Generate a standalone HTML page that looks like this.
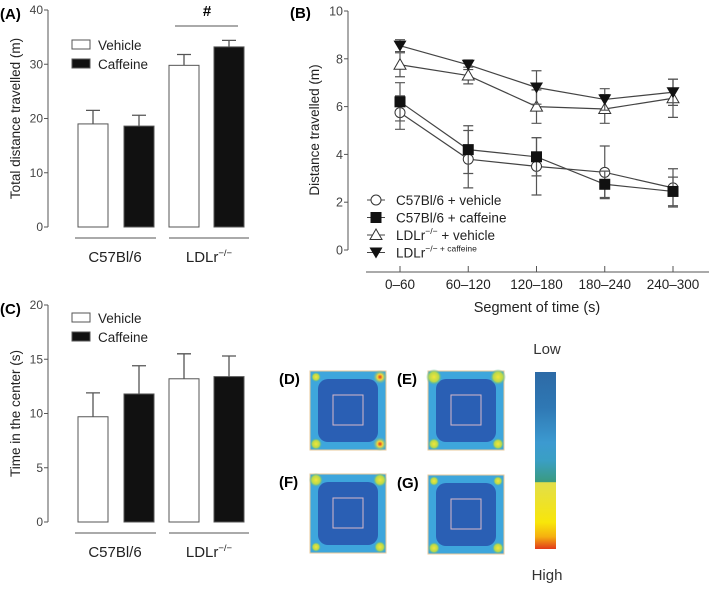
<!DOCTYPE html>
<html><head><meta charset="utf-8"><style>
body{margin:0;background:#fff;}
svg text{font-family:"Liberation Sans",Arial,sans-serif;}
</style></head><body>
<svg id="fig" width="709" height="586" viewBox="0 0 709 586" xmlns="http://www.w3.org/2000/svg">
<defs>
<radialGradient id="hotY"><stop offset="0" stop-color="#f2e63a"/><stop offset="0.6" stop-color="#b9d84a"/><stop offset="1" stop-color="#3fb3a0" stop-opacity="0"/></radialGradient>
<radialGradient id="hotR"><stop offset="0" stop-color="#e0301e"/><stop offset="0.4" stop-color="#f4d83a"/><stop offset="1" stop-color="#5fbf8a" stop-opacity="0"/></radialGradient>
<linearGradient id="cbar" x1="0" y1="0" x2="0" y2="1">
<stop offset="0" stop-color="#2d6aa6"/><stop offset="0.2" stop-color="#2f78b4"/><stop offset="0.4" stop-color="#3c9ad0"/><stop offset="0.5" stop-color="#3a9fc4"/><stop offset="0.62" stop-color="#3a9a80"/><stop offset="0.625" stop-color="#e2de4a"/><stop offset="0.85" stop-color="#f8e60a"/><stop offset="0.93" stop-color="#f5b010"/><stop offset="1" stop-color="#e23a1a"/></linearGradient>
</defs>
<g id="pA"></g>
<g id="pB"></g>
<g id="pC"></g>
<g id="pH"></g>
</svg>
<script>
const NS="http://www.w3.org/2000/svg";
// Panel A data
const aValues=[19,18.6,29.8,33.2];
const aErrors=[2.5,2.0,2.0,1.2];
const aTicks=[0,10,20,30,40];
// Panel C data
const cValues=[9.7,11.8,13.2,13.4];
const cErrors=[2.2,2.6,2.3,1.9];
const cTicks=[0,5,10,15,20];
const barFills=["#fff","#111","#fff","#111"];
const groups=["C57Bl/6","LDLr"];
// Panel B data
const bCategories=["0–60","60–120","120–180","180–240","240–300"];
const bTicks=[0,2,4,6,8,10];
const c57Veh=[5.75,3.8,3.5,3.25,2.6];
const c57VehErr=[0.7,1.2,1.2,1.1,0.8];
const c57Caf=[6.2,4.2,3.9,2.75,2.45];
const c57CafErr=[0.8,1.0,0.8,0.55,0.6];
const ldlVeh=[7.75,7.3,6.0,5.9,6.35];
const ldlVehErr=[0.5,0.35,0.7,0.6,0.8];
const ldlCaf=[8.55,7.75,6.8,6.3,6.6];
const ldlCafErr=[0.25,0.2,0.7,0.45,0.55];

function el(parent,tag,attrs,txt){const e=document.createElementNS(NS,tag);for(const k in attrs)e.setAttribute(k,attrs[k]);if(txt!==undefined)e.textContent=txt;parent.appendChild(e);return e;}
const grey="#555";

function barPanel(g,label,values,errors,ticks,y0,yTop,ytitle,legendY,hash){
  const max=ticks[ticks.length-1];
  const ys=v=>y0-(v/max)*(y0-yTop);
  const ax=48;
  let t=el(g,"text",{x:0,y:yTop+9,"font-size":15,"font-weight":"bold"},label);
  
  
  let l=el(g,"line",{x1:ax,y1:yTop,x2:ax,y2:y0,stroke:grey,"stroke-width":1});
  
  
  ticks.forEach(v=>{
    el(g,"line",{x1:ax-4,y1:ys(v),x2:ax,y2:ys(v),stroke:grey});
    const tt=el(g,"text",{x:ax-5,y:ys(v)+4,"font-size":12,fill:"#444","text-anchor":"end"},v);
    
    
  });
  const yt=el(g,"text",{x:0,y:0,"font-size":13.5,fill:"#222","text-anchor":"middle",transform:`translate(20,${(y0+yTop)/2}) rotate(-90)`},ytitle);
  
  
  const xs=[78,124,169,214];
  values.forEach((v,i)=>{
    const top=ys(v),etop=ys(v+errors[i]),cx=xs[i]+15;
    const er=el(g,"path",{d:`M${cx},${top}V${etop}M${cx-7},${etop}H${cx+7}`,stroke:grey,"stroke-width":1.3,fill:"none"});
    
    
    const b=el(g,"rect",{x:xs[i],y:top,width:30,height:y0-top,fill:barFills[i],stroke:"#555","stroke-width":1});
    
    
  });
  [[75,156,115],[169,249,209]].forEach((p,i)=>{
    el(g,"line",{x1:p[0],y1:y0+11,x2:p[1],y2:y0+11,stroke:grey});
    const gl=el(g,"text",{x:p[2],y:y0+35,"font-size":15,fill:"#222","text-anchor":"middle"});
    
    
    gl.textContent=groups[i];
    if(i===1){el(gl,"tspan",{"font-size":9.5,dy:-6},"−/−");}
  });
  [["Vehicle","#fff"],["Caffeine","#111"]].forEach((e,i)=>{
    const lg=el(g,"g",{});
    
    
    el(lg,"rect",{x:72,y:legendY+i*19-5,width:18,height:9,fill:e[1],stroke:"#555"});
    el(lg,"text",{x:98,y:legendY+i*19+5,"font-size":13.5,fill:"#222"},e[0]);
  });
  if(hash){
    el(g,"line",{x1:175,y1:26,x2:238,y2:26,stroke:grey});
    const h=el(g,"text",{x:207,y:16,"font-size":15,"font-weight":"bold","text-anchor":"middle"},"#");
    
    
  }
}
barPanel(document.getElementById("pA"),"(A)",aValues,aErrors,aTicks,227,10,"Total distance travelled (m)",45,true);
barPanel(document.getElementById("pC"),"(C)",cValues,cErrors,cTicks,522,305,"Time in the center (s)",318,false);

// Panel B
(function(){
  const g=document.getElementById("pB");
  const y0=250,yTop=11,ax=348,max=10;
  const ys=v=>y0-(v/max)*(y0-yTop);
  const xs=i=>400+i*68.25;
  let t=el(g,"text",{x:290,y:18,"font-size":15,"font-weight":"bold"},"(B)");
  
  
  el(g,"line",{x1:ax,y1:yTop,x2:ax,y2:y0,stroke:grey});
  bTicks.forEach(v=>{
    el(g,"line",{x1:ax-4,y1:ys(v),x2:ax,y2:ys(v),stroke:grey});
    const tt=el(g,"text",{x:ax-5,y:ys(v)+4.5,"font-size":12.5,fill:"#444","text-anchor":"end"},v);
    
    
  });
  const yt=el(g,"text",{x:0,y:0,"font-size":13.5,fill:"#222","text-anchor":"middle",transform:`translate(319,130) rotate(-90)`},"Distance travelled (m)");
  
  
  el(g,"line",{x1:366,y1:272,x2:709,y2:272,stroke:grey});
  bCategories.forEach((c,i)=>{
    el(g,"line",{x1:xs(i),y1:266,x2:xs(i),y2:272,stroke:grey});
    const tl=el(g,"text",{x:xs(i),y:289,"font-size":13.5,fill:"#222","text-anchor":"middle"},c);
    
    
  });
  const xt=el(g,"text",{x:537,y:312,"font-size":14.5,fill:"#222","text-anchor":"middle"},"Segment of time (s)");
  
  
  function marker(p,type,x,y){
    if(type==="circle")el(p,"circle",{cx:x,cy:y,r:5,fill:"#fff",stroke:"#333"});
    else if(type==="square")el(p,"rect",{x:x-5.5,y:y-5.5,width:11,height:11,fill:"#111"});
    else if(type==="tri")el(p,"path",{d:`M${x},${y-6}L${x+6},${y+4.5}L${x-6},${y+4.5}Z`,fill:"#fff",stroke:"#333"});
    else el(p,"path",{d:`M${x},${y+6}L${x+6.5},${y-5}L${x-6.5},${y-5}Z`,fill:"#111"});
  }
  const series=[[c57Veh,c57VehErr,"circle","c57-vehicle"],[c57Caf,c57CafErr,"square","c57-caffeine"],[ldlVeh,ldlVehErr,"tri","ldlr-vehicle"],[ldlCaf,ldlCafErr,"itri","ldlr-caffeine"]];
  series.forEach(s=>{
    const sg=el(g,"g",{});
    
    
    s[0].forEach((v,i)=>{
      const x=xs(i),a=ys(v+s[1][i]),b=ys(v-s[1][i]);
      el(sg,"path",{d:`M${x},${a}V${b}M${x-5},${a}H${x+5}M${x-5},${b}H${x+5}`,stroke:"#555","stroke-width":1.2,fill:"none"});
    });
    el(sg,"polyline",{points:s[0].map((v,i)=>xs(i)+","+ys(v)).join(" "),fill:"none",stroke:"#444","stroke-width":1.2});
    s[0].forEach((v,i)=>{
      const pt=el(sg,"g",{});
      
      
      marker(pt,s[2],xs(i),ys(v));
    });
  });
  const labels=["C57Bl/6 + vehicle","C57Bl/6 + caffeine","LDLr","LDLr"];
  series.forEach((s,i)=>{
    const y=200+i*17.5;
    const lg=el(g,"g",{});
    
    
    el(lg,"line",{x1:367,y1:y,x2:385,y2:y,stroke:"#444"});
    marker(lg,s[2],376,y);
    const tx=el(lg,"text",{x:396,y:y+5,"font-size":13.5,fill:"#222"},labels[i]);
    if(i===2){el(tx,"tspan",{"font-size":8.5,dy:-6},"−/−");el(tx,"tspan",{dy:6}," + vehicle");}
    if(i===3){el(tx,"tspan",{"font-size":8.5,dy:-6},"−/− + caffeine");}
  });
})();

// Heatmaps
(function(){
  const g=document.getElementById("pH");
  const maps=[["(D)",310,371,[[0,0,"Y",5],[1,0,"R",7],[0,1,"Y",6],[1,1,"R",7]]],["(E)",428,371,[[0,0,"Y",8],[1,0,"Y",8],[0,1,"Y",6],[1,1,"Y",6]]],["(F)",310,474,[[0,0,"Y",7],[1,0,"Y",7],[0,1,"Y",5],[1,1,"Y",6]]],["(G)",428,475,[[0,0,"Y",5],[1,0,"Y",5],[0,1,"Y",6],[1,1,"Y",6]]]];
  maps.forEach(m=>{
    const mg=el(g,"g",{});
    
    
    el(mg,"text",{x:m[1]-31,y:m[2]+13,"font-size":15,"font-weight":"bold"},m[0]);
    el(mg,"rect",{x:m[1],y:m[2],width:76,height:79,fill:"#3ea6dc",stroke:"#e8c89a","stroke-width":1});
    el(mg,"rect",{x:m[1]+8,y:m[2]+8,width:60,height:63,rx:10,fill:"#2a5fb4"});
    m[3].forEach(h=>{
      el(mg,"circle",{cx:m[1]+(h[0]?70:6),cy:m[2]+(h[1]?73:6),r:h[3],fill:h[2]==="R"?"url(#hotR)":"url(#hotY)"});
    });
    el(mg,"rect",{x:m[1]+23,y:m[2]+24,width:30,height:30,fill:"none",stroke:"#d8b8c8","stroke-width":1});
  });
  const cb=el(g,"rect",{x:535,y:372,width:21,height:177,fill:"url(#cbar)"});
  
  
  let lo=el(g,"text",{x:547,y:354,"font-size":15,fill:"#333","text-anchor":"middle"},"Low");
  
  
  let hi=el(g,"text",{x:547,y:580,"font-size":15,fill:"#333","text-anchor":"middle"},"High");
  
  
})();
</script>
</body></html>
